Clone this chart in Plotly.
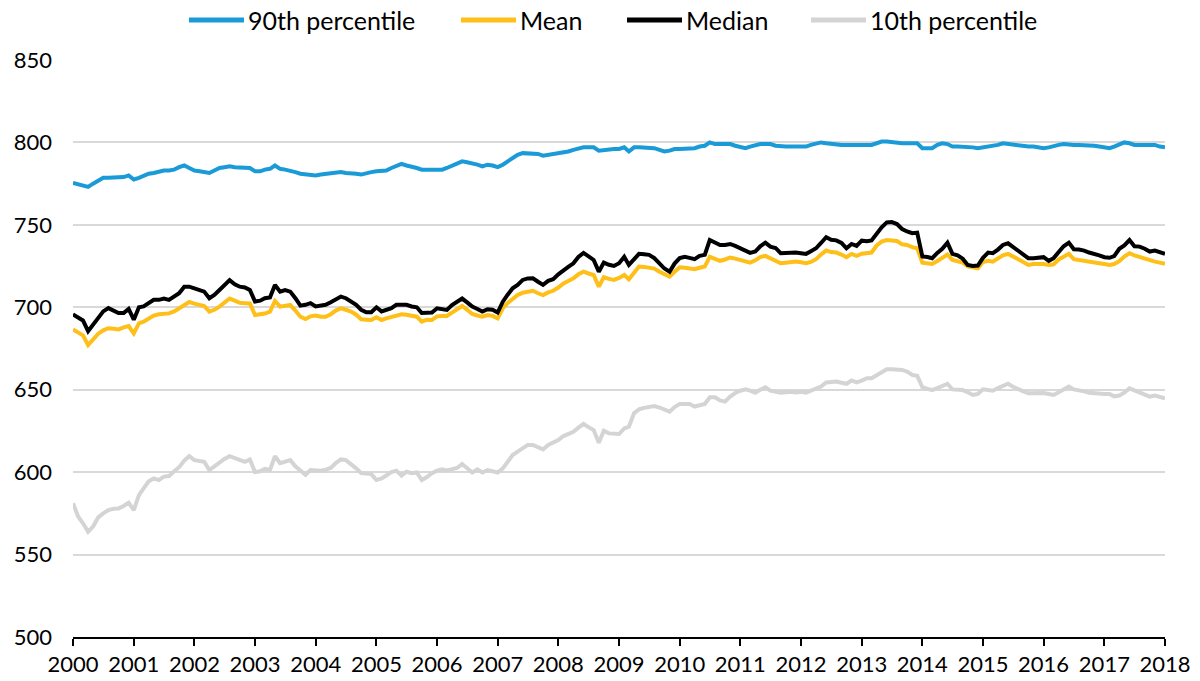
import pandas as pd
import plotly.graph_objects as go

dates = pd.date_range("2000-01-01", periods=217, freq="MS")

p90 = [
    775.5, 774.5, 774, 773, 775, 776.5, 778.5, 778.5, 778.5, 778.5, 779, 780,
    777.5, 778.5, 780, 781, 781.5, 782.5, 783, 783, 783.5, 785, 786, 784.5,
    783, 782.5, 782, 781.5, 783, 784.5, 785, 785.5, 785, 785, 785, 784.5,
    782.5, 782.5, 783.5, 784, 786, 784, 783.5, 783, 782, 781, 780.5, 780,
    780, 780.5, 781, 781.5, 782, 782, 781.5, 781.5, 781, 780.5, 781.5, 782,
    782.5, 782.5, 783, 784.5, 786, 787, 786, 785.5, 784.5, 783.5, 783.5, 783.5,
    783.5, 783.5, 784.5, 786, 787.5, 788.5, 788, 787.5, 786.5, 785.5, 786.5, 786,
    785, 786.5, 788.5, 791, 792.5, 793.5, 793.5, 793.5, 793, 792, 792.5, 793,
    793, 793.5, 794.5, 795.5, 796.5, 797, 797, 797, 795, 795.5, 796, 796,
    796, 797, 794.5, 797, 797, 797, 797, 796.5, 795.5, 794.5, 795, 796,
    796, 796, 796, 796.5, 797.5, 798, 800, 799, 799, 799, 799, 798,
    797, 796.5, 797.5, 798.5, 799, 799, 799, 798, 797.5, 797.5, 797.5, 797.5,
    797.5, 797.5, 798.5, 799.5, 800, 799.5, 799, 798.5, 798.5, 798.5, 798.5, 798.5,
    798.5, 798.5, 798.5, 799.5, 800.5, 800.5, 800, 799.5, 799.5, 799.5, 799.5, 799.5,
    796.5, 796.5, 796.5, 798.5, 799.5, 799, 797.5, 797.5, 797.5, 797.5, 797, 796.5,
    797, 797.5, 797.5, 798.5, 799.5, 799, 798.5, 798.5, 798, 797.5, 797.5, 797,
    796.5, 797, 798, 798.5, 799, 798.5, 798.5, 798.5, 798.5, 798.5, 798, 797.5,
    797, 796.5, 797.5, 798.5, 800, 799.5, 798.5, 798.5, 798.5, 798.5, 798.5, 797.5,
    797,
]

mean = [
    686.6, 684.5, 683, 677.1, 680.5, 684, 686, 687.3, 687, 686.6, 687.8, 688.6,
    684.2, 690.2, 691.3, 693, 695, 695.8, 696, 696.3, 697.5, 699.4, 702, 703.2,
    702.2, 701.5, 700.8, 697.4, 698.5, 700.4, 703, 705.3, 704, 702.7, 702.5, 702.3,
    695.3, 695.6, 696.2, 697.4, 703.8, 700.4, 700.8, 701.4, 698, 694.3, 692.9, 694.5,
    695, 694.3, 694.3, 695.8, 698, 699.4, 698.5, 697.4, 695.5, 692.7, 692.5, 692.3,
    693.9, 692.3, 693.3, 694.3, 695.3, 695.7, 695.5, 695, 694.3, 691.3, 692.5, 692.3,
    694.5, 694.7, 694.7, 696.8, 699, 700.8, 698.5, 695.9, 695, 694.3, 695.3, 694.8,
    693.3, 699.4, 702.5, 705.3, 707.5, 708.8, 709.5, 710, 708.5, 707.4, 709, 710,
    712, 714.5, 716, 717.6, 720, 721.6, 720.5, 719.6, 712.5, 718.2, 717.2, 716.6,
    717.8, 719.6, 717, 721, 724.7, 724.5, 724.3, 723.5, 721.6, 720, 718.6, 721.5,
    724.3, 724, 723.6, 723.1, 724, 724.7, 730.6, 729.5, 728.2, 729, 730.2, 729.5,
    728.5, 728, 727.1, 728.5, 730.5, 731.2, 729.8, 728.5, 726.7, 727, 727.5, 727.7,
    727.3, 726.7, 727.5, 729.2, 732, 734.4, 733.5, 733.2, 732, 730.4, 732.4, 731.2,
    732.5, 733, 733.2, 737.5, 739.8, 740.8, 740.5, 740.2, 738.2, 737.8, 736.5, 735.8,
    727.1, 726.8, 726.3, 728, 729.8, 732, 728.7, 728.2, 727.1, 724.8, 724, 723.7,
    727.5, 728.2, 727.7, 729.5, 731.5, 732.4, 730.5, 729.2, 727.5, 725.7, 726.2, 726.3,
    726.3, 725.7, 726, 729, 731, 732.4, 729.2, 728.8, 728.3, 727.7, 727.2, 726.7,
    726.2, 725.7, 726.2, 728, 730.8, 732.8, 731.5, 730.4, 729.5, 728.3, 727.7, 727.1,
    726.3,
]

median = [
    695.7, 693.5, 692, 685.5, 689.5, 694.5, 697.5, 699.5, 698, 696.5, 696.5, 699,
    692.5, 700, 700.5, 702.5, 704.5, 704.5, 705.3, 704.5, 706.5, 708.5, 712.5, 712.5,
    711.5, 710.5, 709.5, 705.5, 707.5, 710.5, 713.5, 716.5, 714, 712.5, 712, 710.5,
    703.5, 704, 705.5, 706, 713.5, 709.5, 710.5, 709.5, 705.5, 701, 701.5, 702.5,
    700.5, 701, 701.5, 703, 705, 706.5, 705.5, 703.5, 701.5, 698.5, 697, 697,
    700, 697.5, 698.5, 699.5, 701.5, 701.5, 701.5, 700.5, 700, 696.5, 696.8, 696.8,
    699.4, 698.8, 698.4, 701.4, 703.5, 705.3, 703, 700.4, 699, 697.4, 698.8, 698.5,
    696.8, 703.4, 707.5, 711.5, 713.5, 716.6, 717.5, 717.6, 715.5, 713.6, 716, 717,
    720, 722.6, 724.5, 726.7, 730.5, 733, 730.5, 728.7, 721.6, 727.1, 725.8, 725.1,
    726.7, 730.6, 725.7, 729.5, 732.4, 732.2, 731.8, 729.8, 726.5, 723.5, 721.6, 726.5,
    729.8, 730.6, 730, 729.2, 731.2, 731.8, 740.8, 739.5, 737.8, 737.8, 738.4, 737.2,
    735.8, 734.5, 733, 733.8, 737, 739.2, 736.8, 736, 732.8, 733, 733.2, 733.2,
    732.8, 732.4, 734, 735.8, 739, 742.5, 741, 740.6, 739, 735.8, 738.4, 737.2,
    740.4, 740, 740.5, 744.9, 748.5, 751.5, 751.7, 750.5, 747.5, 746, 744.9, 745.3,
    730.8, 730.5, 729.8, 733, 735.5, 739.2, 732.4, 731.5, 729.5, 725.7, 725, 725.3,
    730, 733.2, 732.8, 735, 737.8, 738.8, 736.5, 733.8, 731.8, 729.8, 729.8, 730,
    730.4, 728.2, 729.8, 733.5, 737, 739.2, 735.2, 735, 734.4, 733.2, 732.5, 731.5,
    730.4, 730, 731, 735.5, 737.5, 740.8, 737, 736.8, 735.5, 733.8, 734.4, 733.5,
    732.4,
]

p10 = [
    581.1, 573, 569, 563.9, 567, 572.6, 575, 577, 577.8, 578, 579.5, 581.5,
    577, 586.1, 590.2, 594.5, 596.2, 595.2, 597.3, 597.6, 600.5, 603, 607, 609.7,
    607.3, 606.5, 606.3, 601.3, 603.5, 606.3, 608, 609.7, 608.5, 607.7, 606.3, 607.7,
    600, 600.5, 602, 601.3, 609.7, 605.4, 606.3, 607.3, 603.5, 600.9, 598.4, 601.3,
    601, 600.9, 601.5, 602.5, 605.5, 607.7, 607.3, 605, 602.3, 599.4, 598.8, 598.8,
    595.2, 596.2, 598, 600, 600.9, 597.9, 600.3, 599.4, 599.8, 595.2, 597, 599.4,
    600.9, 601.7, 601, 601.5, 602.5, 604.9, 602.5, 599.8, 601.7, 599.8, 601.3, 600.5,
    599.8, 602.3, 606.5, 610.4, 612.5, 614.5, 616.5, 616.5, 615, 613.8, 616.5, 617.8,
    619.4, 621.9, 623.2, 624.5, 627, 629.2, 627.3, 625.5, 617.8, 625.1, 623.5, 623.1,
    623.1, 626.5, 627.6, 635.7, 638.1, 639, 639.8, 640.1, 639.2, 638, 636.7, 639.5,
    641.4, 641.4, 641.4, 639.8, 640.5, 641.4, 645.4, 645.4, 643.5, 642.8, 645.8, 648,
    649.4, 650.2, 649.5, 648.2, 650, 651.5, 649.4, 649, 648.2, 648.5, 648.8, 648.3,
    648.8, 648.2, 649.5, 650.5, 651.9, 654.4, 654.5, 655, 654.2, 653.6, 655.6, 654.4,
    655.5, 657, 657, 659, 661, 662.4, 662.4, 662.4, 662, 661, 659, 658.4,
    651.5, 650.5, 649.8, 651, 652.5, 653.6, 650.2, 650, 649.8, 648.5, 646.8, 647.4,
    650.2, 649.8, 649.4, 651, 652.5, 653.6, 651.8, 650.2, 649, 647.8, 648, 648.2,
    648, 647.4, 646.8, 648.5, 650.5, 651.9, 650.2, 649.8, 649, 648.2, 647.8, 647.4,
    647.4, 647.4, 646, 646.5, 648.2, 650.8, 649.5, 648.2, 647, 645.8, 646.5, 645.6,
    644.8,
]

names = ["90th percentile", "Mean", "Median", "10th percentile"]
colors = ["#1a9bd7", "#fdbf18", "#000000", "#d4d4d4"]
values = [p90, mean, median, p10]

# legend layout (pixel positions in the 1200x681 window)
LEG_X = [189, 461, 627, 811]
LEG_LINE = 55
LEG_Y = 20

W, H = 1200, 681
ML, MR, MT, MB = 73, 35, 60, 44
PW, PH = W - ML - MR, H - MT - MB


def px_x(p):
    return (p - ML) / PW


def px_y(p):
    return (H - MB - p) / PH


FONT = "Lato, 'Open Sans', sans-serif"
fig = go.Figure()
shapes, annotations = [], []
for name, vals, color, lx in zip(names, values, colors, LEG_X):
    fig.add_trace(go.Scatter(x=dates, y=vals, name=name, mode="lines",
                             line=dict(color=color, width=4)))
    shapes.append(dict(type="line", xref="paper", yref="paper",
                       x0=px_x(lx), x1=px_x(lx + LEG_LINE),
                       y0=px_y(LEG_Y), y1=px_y(LEG_Y),
                       line=dict(color=color, width=5)))
    annotations.append(dict(xref="paper", yref="paper", x=px_x(lx + LEG_LINE + 2),
                            y=px_y(LEG_Y), xanchor="left", yanchor="middle",
                            text=name, showarrow=False,
                            font=dict(family=FONT, size=25, color="#000000")))

fig.update_layout(
    width=W, height=H,
    margin=dict(l=ML, r=MR, t=MT, b=MB),
    paper_bgcolor="white", plot_bgcolor="white",
    font=dict(family=FONT, size=22, color="#000000"),
    showlegend=False,
    shapes=shapes, annotations=annotations,
)
fig.update_xaxes(
    range=[dates[0], dates[-1]], tickformat="%Y", dtick="M12", tick0=dates[0],
    showgrid=False, showline=True, linecolor="#000000", linewidth=2,
    ticks="outside", ticklen=7, tickwidth=2, tickcolor="#000000",
    tickfont=dict(size=22), zeroline=False, automargin=False,
)
fig.update_yaxes(
    range=[500, 850], dtick=50, showgrid=True, gridcolor="#d9d9d9", gridwidth=2,
    zeroline=False, showline=False, ticks="", tickfont=dict(size=22),
    ticklabelstandoff=20, automargin=False,
)

fig.write_html(
    "out.html",
    config={"displayModeBar": False},
    post_script="document.body.style.margin='0';document.body.style.overflow='hidden';",
)
